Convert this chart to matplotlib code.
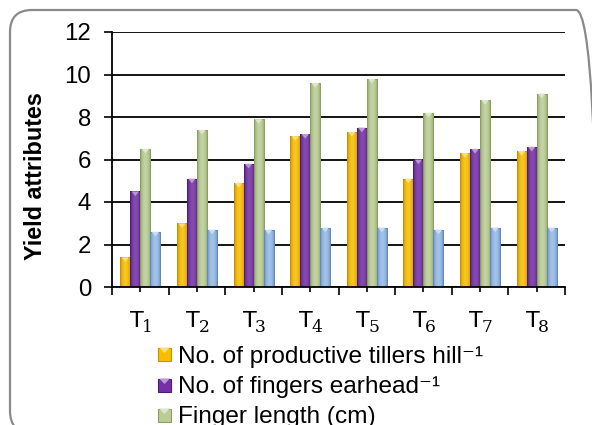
import numpy as np
import matplotlib
matplotlib.use("Agg")
import matplotlib.pyplot as plt
from matplotlib.patches import FancyBboxPatch, Rectangle, Polygon
from matplotlib.transforms import IdentityTransform
from matplotlib.colors import to_rgb

# ---- data ----
categories = ["1", "2", "3", "4", "5", "6", "7", "8"]
tillers = [1.4, 3.0, 4.9, 7.1, 7.3, 5.1, 6.3, 6.4]
fingers = [4.5, 5.1, 5.8, 7.2, 7.5, 6.0, 6.5, 6.6]
finger_length = [6.5, 7.4, 7.9, 9.6, 9.8, 8.2, 8.8, 9.1]
series4 = [2.6, 2.7, 2.7, 2.8, 2.8, 2.7, 2.8, 2.8]
series_labels = ["No. of productive tillers hill\u207b\u00b9",
                 "No. of fingers earhead\u207b\u00b9",
                 "Finger length (cm)"]
y_ticks = [0, 2, 4, 6, 8, 10, 12]

series = [tillers, fingers, finger_length, series4]
mid_colors = ["#F7BE00", "#7431A6", "#BACD96", "#94B9E6"]
edge_colors = ["#C99000", "#4F1A78", "#8CA062", "#6489BC"]

W, H = 592, 425
fig = plt.figure(figsize=(W / 100, H / 100), dpi=100)
fig.patch.set_facecolor("white")

# rounded border (top-left at (10, 10) from the top-left corner)
border = FancyBboxPatch((10, -8), 588, (H - 10) + 8,
                        boxstyle="round,pad=0,rounding_size=22",
                        transform=IdentityTransform(), facecolor="none",
                        edgecolor="#8A8A8A", linewidth=1.6)
fig.add_artist(border)

ax = fig.add_axes([112 / W, 1 - 287 / H, 453 / W, 255 / H])
ax.set_facecolor("none")

x = np.arange(len(categories))
bw = 0.177
offsets = [-1.5, -0.5, 0.5, 1.5]


def shade(mid, edge, n=32):
    m = np.array(to_rgb(mid))
    e = np.array(to_rgb(edge))
    t = np.linspace(-1, 1, n)
    w = np.abs(t) ** 2.2
    light = np.clip(m + (1 - m) * 0.12, 0, 1)
    cols = np.array([light * (1 - wi) + e * wi for wi in w])
    return cols[None, :, :]


tri_h = 0.22
for vals, off, mc, ec in zip(series, offsets, mid_colors, edge_colors):
    bars = ax.bar(x + off * bw, vals, width=bw, color="none",
                  edgecolor=ec, linewidth=0.7, zorder=3)
    grad = shade(mc, ec)
    light = np.clip(np.array(to_rgb(mc)) + (1 - np.array(to_rgb(mc))) * 0.5, 0, 1)
    for b in bars:
        x0, w_, h = b.get_x(), b.get_width(), b.get_height()
        im = ax.imshow(grad, extent=[x0, x0 + w_, 0, h], aspect="auto",
                       zorder=2.5, interpolation="bilinear")
        im.set_clip_path(b)
        tri = Polygon([[x0 + w_ * 0.12, h], [x0 + w_ * 0.88, h],
                       [x0 + w_ / 2, h - tri_h]], closed=True,
                      facecolor=light, edgecolor="none", zorder=3.5)
        ax.add_patch(tri)

ax.set_xlim(-0.5, len(categories) - 0.5)
ax.set_ylim(0, 12)
ax.set_yticks(y_ticks)
ax.set_yticklabels([str(v) for v in y_ticks], fontsize=17.3,
                   family="Liberation Sans")
ax.set_xticks(x)
ax.set_xticklabels([""] * len(categories))
ax.set_xticks(np.arange(-0.5, len(categories)), minor=True)
ax.tick_params(axis="x", which="major", direction="inout", length=6.5,
               width=1.2, pad=10)
ax.tick_params(axis="x", which="minor", direction="out", length=5.5,
               width=1.2)
ax.tick_params(axis="y", which="major", direction="out", length=6,
               width=1.2, pad=9)
ax.yaxis.grid(True, color="black", linewidth=1.3, zorder=1)
ax.set_axisbelow(True)
for s in ["top", "right"]:
    ax.spines[s].set_visible(False)
for s in ["left", "bottom"]:
    ax.spines[s].set_color("black")
    ax.spines[s].set_linewidth(1.3)
    ax.spines[s].set_zorder(4)

# category labels: "T" with a large subscript number
for xi, c in zip(x, categories):
    ax.annotate("T", xy=(xi, 0), xycoords=("data", "axes fraction"),
                xytext=(3, -40), textcoords="offset pixels",
                ha="right", va="baseline", fontsize=16,
                family="DejaVu Sans", annotation_clip=False)
    ax.annotate(c, xy=(xi, 0), xycoords=("data", "axes fraction"),
                xytext=(1.5, -45), textcoords="offset pixels",
                ha="left", va="baseline", fontsize=12.3,
                family="DejaVu Serif", annotation_clip=False)

fig.text(36 / W, 1 - 176 / H, "Yield attributes", rotation=90,
         ha="center", va="center", fontsize=16.8, fontweight="bold",
         family="Liberation Sans")

# legend (manual, three visible rows)
row_y = [354, 385, 415]
for lab, cy, mc, ec in zip(series_labels, row_y, mid_colors, edge_colors):
    py = H - cy
    r = Rectangle((158, py - 6.5), 13, 13, transform=IdentityTransform(),
                  facecolor=mc, edgecolor=ec, linewidth=0.8)
    fig.add_artist(r)
    lc = np.clip(np.array(to_rgb(mc)) + (1 - np.array(to_rgb(mc))) * 0.5, 0, 1)
    t = Polygon([[159, py + 6.5], [170, py + 6.5], [164.5, py + 1]],
                closed=True, transform=IdentityTransform(),
                facecolor=lc, edgecolor="none")
    fig.add_artist(t)
    fig.text(178 / W, py / H, lab, ha="left", va="center_baseline",
             fontsize=17.6, family=["Liberation Sans", "DejaVu Sans"])

fig.savefig("out.png", dpi=100)
